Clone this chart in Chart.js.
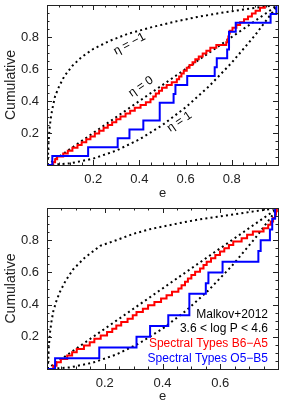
<!DOCTYPE html>
<html>
<head>
<meta charset="utf-8">
<script src="https://cdn.jsdelivr.net/npm/chart.js@4/dist/chart.umd.min.js"></script>
<style>
  body { margin: 0; background: #fff; }
  .panel { position: absolute; left: 0; width: 289px; height: 203px; }
</style>
</head>
<body>
<div class="panel" style="top:0"><canvas id="topChart" width="289" height="203"></canvas></div>
<div class="panel" style="top:203px"><canvas id="botChart" width="289" height="203"></canvas></div>
<script>
// --- top panel: all periods, e in [0,1]
const topRedE = [0.025, 0.035, 0.044, 0.07, 0.09, 0.11, 0.132, 0.15, 0.17, 0.188,
  0.207, 0.226, 0.245, 0.263, 0.282, 0.30, 0.318, 0.34, 0.36, 0.38,
  0.405, 0.428, 0.448, 0.46, 0.471, 0.485, 0.498, 0.518, 0.54, 0.562,
  0.572, 0.582, 0.592, 0.605, 0.617, 0.63, 0.642, 0.657, 0.674, 0.69,
  0.707, 0.733, 0.776, 0.782, 0.785, 0.788, 0.791, 0.803, 0.82, 0.836,
  0.853, 0.87, 0.887, 0.903, 0.922, 0.943];
const topBlueE = [0.023, 0.178, 0.306, 0.357, 0.417, 0.488, 0.488, 0.548, 0.556, 0.607,
  0.726, 0.735, 0.78, 0.788, 0.788, 0.817, 0.968, 0.993];

const topEtaM1E = [0.003, 0.006, 0.01, 0.015, 0.023, 0.035, 0.052, 0.075, 0.11, 0.15,
  0.2, 0.27, 0.35, 0.45, 0.55, 0.65, 0.75, 0.85, 0.93, 1.0];
const topEtaM1C = [0, 0.12, 0.21, 0.28, 0.35, 0.43, 0.49, 0.555, 0.62, 0.675,
  0.725, 0.775, 0.82, 0.86, 0.895, 0.925, 0.95, 0.972, 0.988, 1.0];
const topEta0E = [0, 1];
const topEta0C = [0, 1];
const topEta1E = [0, 0.1, 0.2, 0.3, 0.4, 0.5, 0.6, 0.7, 0.8, 0.9, 1.0];
const topEta1C = [0, 0.01, 0.04, 0.09, 0.16, 0.25, 0.36, 0.49, 0.64, 0.81, 1.0];

// --- bottom panel: 3.6 < log P < 4.6, e in [0,0.8]
const botRedE = [0.022, 0.033, 0.048, 0.07, 0.087, 0.103, 0.128, 0.148, 0.164, 0.186,
  0.208, 0.226, 0.24, 0.257, 0.279, 0.297, 0.31, 0.332, 0.35, 0.372,
  0.395, 0.414, 0.433, 0.455, 0.466, 0.478, 0.488, 0.5, 0.513, 0.53,
  0.542, 0.553, 0.568, 0.583, 0.599, 0.614, 0.63, 0.645, 0.674, 0.693,
  0.713, 0.75, 0.766, 0.775, 0.783, 0.79, 0.793, 0.796];
const botBlueE = [0.028, 0.181, 0.31, 0.357, 0.42, 0.493, 0.493, 0.55, 0.559, 0.608,
  0.732, 0.74, 0.772, 0.78, 0.79];

const botEtaM1E = [0.003, 0.006, 0.01, 0.015, 0.022, 0.032, 0.045, 0.065, 0.091, 0.13,
  0.184, 0.24, 0.3, 0.36, 0.415, 0.47, 0.53, 0.59, 0.645, 0.7, 0.75, 0.8];
const botEtaM1C = [0, 0.13, 0.22, 0.29, 0.36, 0.42, 0.48, 0.55, 0.62, 0.69,
  0.765, 0.8, 0.84, 0.87, 0.89, 0.91, 0.93, 0.945, 0.96, 0.975, 0.988, 1.0];
const botEta0E = [0, 0.8];
const botEta0C = [0, 1];
const botEta1E = [0, 0.08, 0.16, 0.24, 0.32, 0.4, 0.48, 0.56, 0.64, 0.72, 0.8];
const botEta1C = [0, 0.01, 0.04, 0.09, 0.16, 0.25, 0.36, 0.49, 0.64, 0.81, 1.0];

const topXTicks = [0.2, 0.4, 0.6, 0.8];
const botXTicks = [0.2, 0.4, 0.6];
const yTicks = [0.2, 0.4, 0.6, 0.8];

const legendLines = ['Malkov+2012', '3.6 < log P < 4.6', 'Spectral Types B6\u2212A5', 'Spectral Types O5\u2212B5'];
const legendColors = ['#000', '#000', 'rgb(255,0,0)', 'rgb(0,0,255)'];

const FONT = '"Liberation Sans", Arial, sans-serif';
const RED = 'rgb(255,0,0)';
const BLUE = 'rgb(0,0,255)';

function cumulative(eList) {
  let pts = [{x: 0, y: 0}];
  eList.forEach(function(e, i) { pts.push({x: e, y: (i + 1) / eList.length}); });
  return pts;
}

function curve(eList, cList) {
  return eList.map(function(e, i) { return {x: e, y: cList[i]}; });
}

function stepSet(eList, color) {
  return { data: cumulative(eList), showLine: true, stepped: true, borderColor: color,
    borderWidth: 2, pointRadius: 0, fill: false };
}

function dotSet(eList, cList) {
  return { data: curve(eList, cList), showLine: true, borderColor: '#000', borderWidth: 2,
    borderDash: [2, 3.2], pointRadius: 0, fill: false, tension: 0 };
}

// inward ticks on all four sides plus the frame
const frameTicks = {
  id: 'frameTicks',
  afterDraw(chart) {
    const ctx = chart.ctx, a = chart.chartArea;
    const xs = chart.scales.x, ys = chart.scales.y;
    ctx.save();
    ctx.strokeStyle = '#222';
    ctx.lineWidth = 1;
    ctx.beginPath();
    for (let v = 0; v <= xs.max + 1e-9; v += 0.05) {
      const p = Math.round(xs.getPixelForValue(v)) + 0.5;
      const len = Math.abs(v / 0.2 - Math.round(v / 0.2)) < 1e-6 ? 5 : 2.5;
      ctx.moveTo(p, a.bottom); ctx.lineTo(p, a.bottom - len);
      ctx.moveTo(p, a.top); ctx.lineTo(p, a.top + len);
    }
    for (let v = 0; v <= 1 + 1e-9; v += 0.05) {
      const p = Math.round(ys.getPixelForValue(v)) + 0.5;
      const len = Math.abs(v / 0.2 - Math.round(v / 0.2)) < 1e-6 ? 5 : 2.5;
      ctx.moveTo(a.left, p); ctx.lineTo(a.left + len, p);
      ctx.moveTo(a.right, p); ctx.lineTo(a.right - len, p);
    }
    ctx.stroke();
    ctx.strokeRect(Math.round(a.left) + 0.5, Math.round(a.top) + 0.5,
      Math.round(a.right - a.left), Math.round(a.bottom - a.top));
    ctx.restore();
  }
};

// curve labels (top) and text legend (bottom)
const notes = {
  id: 'notes',
  afterDraw(chart, args, opts) {
    const ctx = chart.ctx, a = chart.chartArea;
    const xs = chart.scales.x, ys = chart.scales.y;
    ctx.save();
    ctx.font = '12px ' + FONT;
    (opts.labels || []).forEach(function(l) {
      ctx.save();
      ctx.translate(xs.getPixelForValue(l.e), ys.getPixelForValue(l.c));
      ctx.rotate(l.angle * Math.PI / 180);
      ctx.fillStyle = '#000';
      ctx.textAlign = 'center';
      ctx.textBaseline = 'middle';
      ctx.fillText(l.text, 0, 0);
      ctx.restore();
    });
    if (opts.legend) {
      ctx.textAlign = 'right';
      ctx.textBaseline = 'middle';
      legendLines.forEach(function(t, i) {
        ctx.fillStyle = legendColors[i];
        ctx.fillText(t, a.right - 10, a.bottom - 54.5 + i * 14.6);
      });
    }
    ctx.restore();
  }
};

function makePanel(id, xmax, xTicks, blueE, redE, m1E, m1C, e0E, e0C, e1E, e1C, noteOpts, xh) {
  return new Chart(document.getElementById(id), {
    type: 'scatter',
    data: {
      datasets: [
        stepSet(blueE, BLUE),
        stepSet(redE, RED),
        dotSet(m1E, m1C),
        dotSet(e0E, e0C),
        dotSet(e1E, e1C)
      ]
    },
    options: {
      responsive: false,
      animation: false,
      layout: { padding: { top: 5, right: 11, left: 0, bottom: 0 } },
      plugins: { legend: { display: false }, tooltip: { enabled: false }, notes: noteOpts },
      scales: {
        x: {
          type: 'linear', min: 0, max: xmax,
          grid: { display: false, drawTicks: false, tickLength: 0 }, border: { display: false },
          afterBuildTicks: function(s) { s.ticks = xTicks.map(function(v) { return {value: v}; }); },
          ticks: {
            color: '#222', font: { family: FONT, size: 13 }, padding: 7, maxRotation: 0,
            callback: function(v) { return v.toFixed(1); }
          },
          title: { display: true, text: 'e', color: '#222', font: { family: FONT, size: 13 },
            padding: { top: 0, bottom: 2 } },
          afterFit: function(s) { s.height = xh; s.paddingLeft = 0; s.paddingRight = 0; }
        },
        y: {
          type: 'linear', min: 0, max: 1,
          grid: { display: false, drawTicks: false, tickLength: 0 }, border: { display: false },
          afterBuildTicks: function(s) { s.ticks = yTicks.map(function(v) { return {value: v}; }); },
          ticks: {
            color: '#222', font: { family: FONT, size: 13 }, padding: 8,
            callback: function(v) { return v.toFixed(1); }
          },
          title: { display: true, text: 'Cumulative', color: '#222', font: { family: FONT, size: 14 },
            padding: { top: 3, bottom: 0 } },
          afterFit: function(s) { s.width = 47; s.paddingTop = 0; s.paddingBottom = 0; }
        }
      }
    },
    plugins: [frameTicks, notes]
  });
}

makePanel('topChart', 1, topXTicks, topBlueE, topRedE, topEtaM1E, topEtaM1C, topEta0E, topEta0C,
  topEta1E, topEta1C, {
    labels: [
      { text: '\u03b7 = \u22121', e: 0.357, c: 0.756, angle: -28 },
      { text: '\u03b7 = 0', e: 0.407, c: 0.49, angle: -35 },
      { text: '\u03b7 = 1', e: 0.574, c: 0.27, angle: -34 }
    ]
  }, 38);

makePanel('botChart', 0.8, botXTicks, botBlueE, botRedE, botEtaM1E, botEtaM1C, botEta0E, botEta0C,
  botEta1E, botEta1C, { legend: true }, 37);
</script>
</body>
</html>
